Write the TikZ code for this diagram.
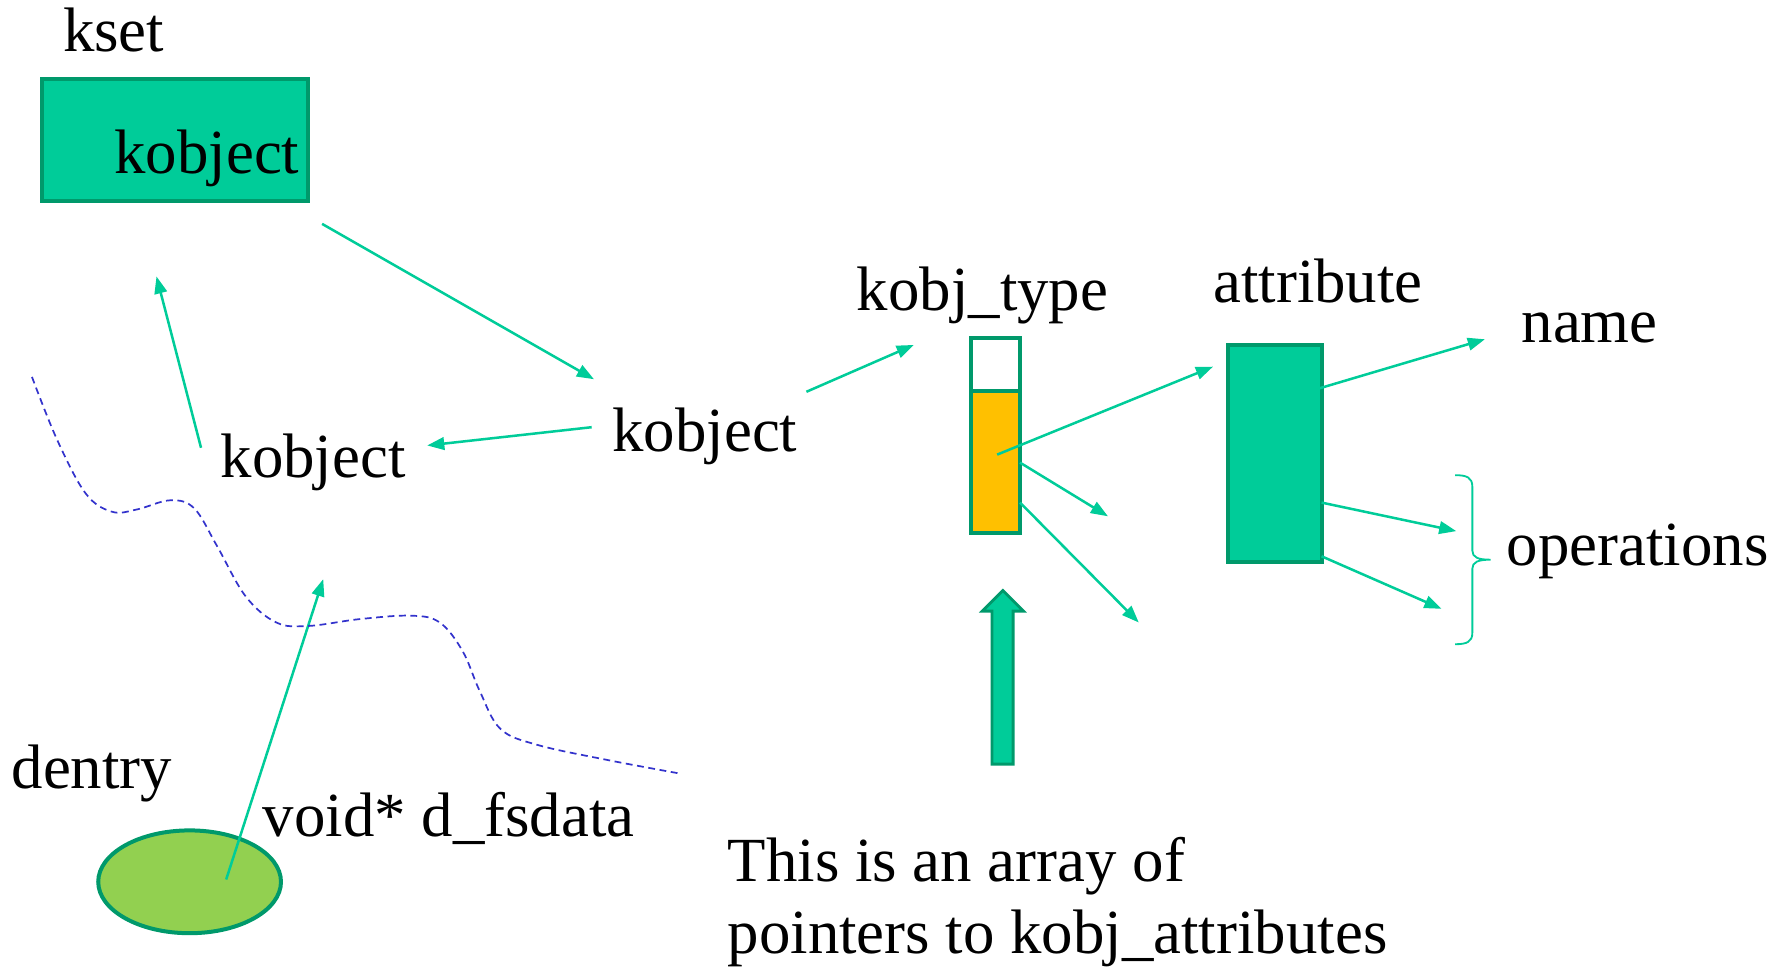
\documentclass[tikz,border=0pt]{standalone}
\usepackage{fontspec}
\setmainfont{Liberation Serif}
\usetikzlibrary{arrows.meta,shapes.geometric}
\definecolor{teal1}{HTML}{00CC99}
\definecolor{tealdark}{HTML}{00996B}
\definecolor{amber}{HTML}{FFC000}
\definecolor{leaf}{HTML}{92D050}
\definecolor{dashblue}{HTML}{3333CC}
\begin{document}
\begin{tikzpicture}[x=1pt,y=-1pt,
  lbl/.style={anchor=base west, inner sep=0pt, font=\fontsize{55}{66}\selectfont},
  ptr/.style={draw=teal1, line width=2.2pt, -{Triangle[length=15pt,width=11pt]}},
  box/.style={draw=tealdark, line width=3.5pt, fill=teal1, inner sep=0pt},
  slot/.style={draw=tealdark, line width=3.5pt, inner sep=0pt, minimum width=43pt},
]
\useasboundingbox (0,0) rectangle (1568,852);

% boxes
\node[box, minimum width=233pt, minimum height=107pt] (ksetbox) at (153.5,122.5) {};
\node[slot, fill=white, minimum height=46pt] (slot0) at (871.5,319) {};
\node[slot, fill=amber, minimum height=125pt] (slots) at (871.5,404.5) {};
\node[box, minimum width=82pt, minimum height=190pt] (attr) at (1116,397) {};
\node[ellipse, draw=tealdark, line width=3.5pt, fill=leaf, minimum width=160pt, minimum height=90pt] (dent) at (166,772) {};

% block arrow pointing at the slot array
\draw[draw=tealdark, fill=teal1, line width=2.5pt, line join=miter]
  (868.5,669) -- (868.5,535) -- (860,535) -- (878,517) -- (896,535) -- (887,535) -- (887,669) -- cycle;

% labels
\node[lbl] (kset) at (55,45) {kset};
\node[lbl] (kobjA) at (100,152) {kobject};
\node[lbl] (kobjB) at (536,395) {kobject};
\node[lbl] (kobjC) at (193,418) {kobject};
\node[lbl] (ktype) at (750,272) {kobj\_type};
\node[lbl] (attrl) at (1062,265) {attribute};
\node[lbl] (name) at (1332,300) {name};
\node[lbl] (ops) at (1319,495) {operations};
\node[lbl] (dentry) at (10,690) {dentry};
\node[lbl] (fsdata) at (230,732) {void* d\_fsdata};
\node[lbl] (note1) at (637,772) {This is an array of};
\node[lbl] (note2) at (637,835) {pointers to kobj\_attributes};

% connector end points
\coordinate (p1s) at (282,196);  \coordinate (p1e) at (520,332);
\coordinate (p2s) at (518,374);  \coordinate (p2e) at (374,390);
\coordinate (p3s) at (176,392);  \coordinate (p3e) at (137,242);
\coordinate (p4s) at (706,343);  \coordinate (p4e) at (800,302);
\coordinate (p5s) at (873,398);  \coordinate (p5e) at (1062,321);
\coordinate (p6s) at (893,405);  \coordinate (p6e) at (970,452);
\coordinate (p7s) at (893,440);  \coordinate (p7e) at (997,545);
\coordinate (p8s) at (1155,340); \coordinate (p8e) at (1300,297);
\coordinate (p9s) at (1157,440); \coordinate (p9e) at (1275,465);
\coordinate (pAs) at (1157,487); \coordinate (pAe) at (1262,533);
\coordinate (pBs) at (198,770);  \coordinate (pBe) at (283,507);

\draw[ptr] (p1s) -- (p1e);
\draw[ptr] (p2s) -- (p2e);
\draw[ptr] (p3s) -- (p3e);
\draw[ptr] (p4s) -- (p4e);
\draw[ptr] (p5s) -- (p5e);
\draw[ptr] (p6s) -- (p6e);
\draw[ptr] (p7s) -- (p7e);
\draw[ptr] (p8s) -- (p8e);
\draw[ptr] (p9s) -- (p9e);
\draw[ptr] (pAs) -- (pAe);
\draw[ptr] (pBs) -- (pBe);

% brace grouping the operations
\draw[teal1, line width=1.6pt]
  (1274,416) .. controls (1284,416) and (1289,418) .. (1289,426)
  -- (1289,482) .. controls (1289,488) and (1294,490) .. (1305,490)
  .. controls (1294,490) and (1289,492) .. (1289,498)
  -- (1289,554) .. controls (1289,562) and (1284,564) .. (1274,564);

% user/kernel boundary
\draw[dashblue, line width=1.5pt, dash pattern=on 6pt off 4pt]
  plot[smooth, tension=0.6] coordinates {
   (28,330) (50,385) (75,432) (98,448) (120,446) (149,438) (170,445)
   (190,478) (215,522) (242,545) (270,548) (315,542) (360,539) (385,545)
   (405,570) (420,605) (438,638) (470,652) (530,665) (594,677)};
\end{tikzpicture}
\end{document}
